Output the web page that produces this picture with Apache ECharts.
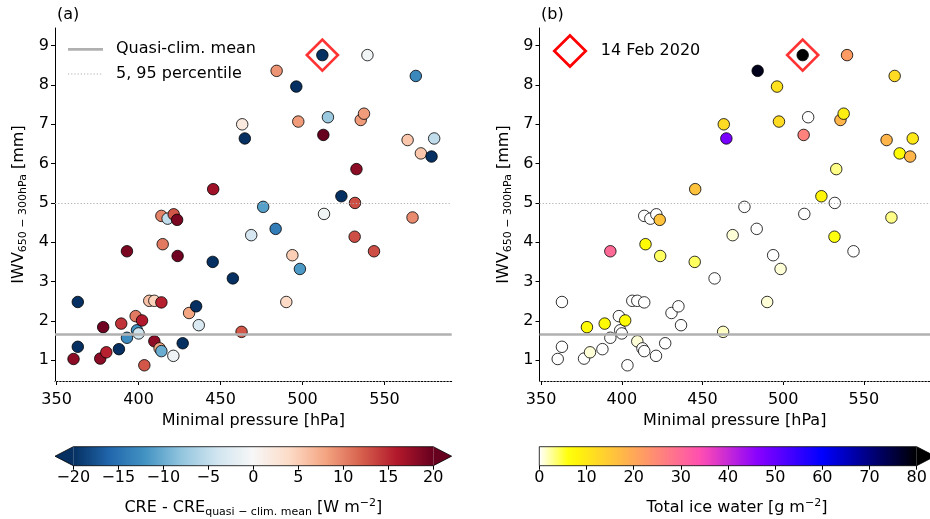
<!DOCTYPE html>
<html>
<head>
<meta charset="utf-8">
<script src="https://cdn.jsdelivr.net/npm/echarts@6/dist/echarts.min.js"></script>
<style>
  html, body { margin: 0; padding: 0; background: #fff; }
  #chart { width: 930px; height: 519px; }
</style>
</head>
<body>
<div id="chart"></div>
<script>
// Minimal pressure of each case [hPa]
const pressure = [
  360.3, 362.9, 362.9, 376.6, 380.3, 378.4, 388.0, 389.4, 392.9, 392.9,
  398.2, 399.0, 400.0, 402.1, 403.5, 406.5, 409.6, 409.6, 412.8, 413.9,
  413.9, 413.9, 414.7, 417.7, 421.4, 423.5, 423.8, 421.2, 426.9, 430.8,
  435.1, 436.7, 445.2, 445.5, 457.5, 462.8, 463.2, 464.8, 468.7, 476.0,
  483.6, 484.2, 490.1, 493.8, 496.2, 497.4, 498.4, 512.1, 512.7, 513.1,
  515.5, 523.7, 531.8, 532.0, 532.9, 535.5, 537.5, 539.6, 543.6, 564.1,
  567.1, 569.1, 572.2, 578.7, 580.3
];
// Integrated water vapour 650-300 hPa [mm]
const iwv = [
  1.03, 1.34, 2.48, 1.04, 1.20, 1.84, 1.28, 1.93, 1.57, 3.77,
  2.12, 1.76, 1.68, 2.01, 0.87, 2.51, 2.51, 1.48, 1.30, 1.23,
  2.47, 4.67, 3.95, 4.60, 4.71, 4.57, 3.65, 1.11, 1.43, 2.20,
  2.37, 1.89, 3.50, 5.35, 3.08, 1.72, 7.00, 6.64, 4.18, 4.90,
  4.34, 8.36, 2.48, 3.67, 7.96, 7.07, 3.32, 8.76, 6.73, 4.72,
  7.18, 5.17, 4.14, 5.00, 5.86, 7.11, 7.27, 8.76, 3.77, 6.60,
  4.63, 8.23, 6.26, 6.18, 6.64
];
// CRE anomaly relative to the quasi-climatological mean [W m-2]
const creAnomaly = [
  18, -21, -21, 18, 15.5, 19.5, -21, 14.5, -12.5, 19,
  10.5, -12, -4, 16, 12.5, 6, 4.5, 18, 8, -10,
  15.5, 10, 10.5, -5, 12.5, 19, 19.5, -1, -21, 8,
  -21, -3, -21, 17, -21, 12.5, 2, -22, -3.5, -11,
  -14, 9, 4, 5, -22, 8.5, -11.5, -22, 20, -0.5,
  -7.5, -21, 13, 13, 18, 8.5, 8.5, -0.5, 13, 5.5,
  9.5, -13, 5.5, -21, -5
];
// Total ice water [g m-2]
const iceWater = [
  0, 0, 0, 0, 1, 7, 0, 7, 0, 30,
  0, 0, 0, 7, 0, 0, 0, 1, 0, 0,
  0, 0, 7, 0, 0, 16, 4, 0, 0, 0,
  0, 0, 4, 16, 0, 1.5, 12, 48, 1, 0,
  0, 78, 1, 0, 11, 12, 1, 85, 26, 0,
  0, 8, 6, 0, 3, 18, 9, 22, 0, 18,
  3, 12, 7, 18, 10
];
// case of 14 Feb 2020
const highlightIndex = 47;
const highlightLabel = '14 Feb 2020';

const climMean = 1.65;
const percentileLines = [0.47, 4.98];

const xTicks = [350, 400, 450, 500, 550];
const yTicks = [1, 2, 3, 4, 5, 6, 7, 8, 9];
const creTicks = [-20, -15, -10, -5, 0, 5, 10, 15, 20];
const iceTicks = [0, 10, 20, 30, 40, 50, 60, 70, 80];

// ---------- colour maps ----------
const rdbuR = ['#053061', '#2166ac', '#4393c3', '#92c5de', '#d1e5f0', '#f7f7f7',
               '#fddbc7', '#f4a582', '#d6604d', '#b2182b', '#67001f'];
function hexRgb(h) {
  return [parseInt(h.slice(1, 3), 16), parseInt(h.slice(3, 5), 16), parseInt(h.slice(5, 7), 16)];
}
function clamp01(v) { return Math.max(0, Math.min(1, v)); }
function rgbStr(c) { return 'rgb(' + c.map(v => Math.round(v)).join(',') + ')'; }
function rdbuColor(v) {
  const t = clamp01((v + 20) / 40) * (rdbuR.length - 1);
  const i = Math.min(Math.floor(t), rdbuR.length - 2);
  const f = t - i;
  const a = hexRgb(rdbuR[i]), b = hexRgb(rdbuR[i + 1]);
  return rgbStr([0, 1, 2].map(k => a[k] + (b[k] - a[k]) * f));
}
function gnuplot2R(v) {
  const t = 1 - clamp01(v / 80);
  const r = clamp01(t / 0.32 - 0.78125);
  const g = clamp01(2 * t - 0.84);
  let b;
  if (t < 0.25) b = 4 * t;
  else if (t < 0.42) b = 1;
  else if (t < 0.92) b = -2 * t + 1.84;
  else b = t / 0.08 - 11.5;
  b = clamp01(b);
  return rgbStr([r * 255, g * 255, b * 255]);
}

const font = 'DejaVu Sans';
const gray = '#b0b0b0';

function axisPair(gridIndex) {
  return {
    x: {
      type: 'value', gridIndex, min: 349, max: 591,
      axisLine: { lineStyle: { color: '#000', width: 1 } },
      axisTick: { customValues: xTicks, length: 4, lineStyle: { color: '#000' } },
      axisLabel: { customValues: xTicks, color: '#000', fontSize: 16, fontFamily: font, margin: 11 },
      splitLine: { show: false },
      name: 'Minimal pressure [hPa]', nameLocation: 'middle', nameGap: 25,
      nameTextStyle: { color: '#000', fontSize: 16, fontFamily: font }
    },
    y: {
      type: 'value', gridIndex, min: 0.47, max: 9.45,
      axisLine: { show: true, lineStyle: { color: '#000', width: 1 } },
      axisTick: { show: true, customValues: yTicks, length: 4, lineStyle: { color: '#000' } },
      axisLabel: { customValues: yTicks, color: '#000', fontSize: 16, fontFamily: font, margin: 6 },
      splitLine: { show: false },
      name: '{m|IWV}{s|650 − 300hPa}{m| [mm]}', nameLocation: 'middle', nameGap: 26,
      nameTextStyle: {
        color: '#000', fontFamily: font,
        rich: {
          m: { fontSize: 16, fontFamily: font, color: '#000', lineHeight: 20 },
          s: { fontSize: 11, fontFamily: font, color: '#000', lineHeight: 10, verticalAlign: 'bottom' }
        }
      }
    }
  };
}
const pa = axisPair(0), pb = axisPair(1);

function refLines(xi) {
  return {
    type: 'scatter', xAxisIndex: xi, yAxisIndex: xi, data: [], z: 1, silent: true,
    markLine: {
      silent: true, symbol: 'none', label: { show: false },
      data: [
        { yAxis: climMean, lineStyle: { color: gray, width: 2.7, type: 'solid' } },
        ...percentileLines.map(v => ({ yAxis: v, lineStyle: { color: gray, width: 1, type: [1.2, 2] } }))
      ]
    }
  };
}

function pointSeries(xi, values, colorFn) {
  return {
    type: 'scatter', xAxisIndex: xi, yAxisIndex: xi, z: 3,
    symbol: 'circle', symbolSize: 11.5,
    data: pressure.map((p, i) => [p, iwv[i], values[i]]),
    itemStyle: {
      color: params => colorFn(params.value[2]),
      borderColor: '#000', borderWidth: 0.8, opacity: 1
    },
    emphasis: { disabled: true }
  };
}

function highlightSeries(xi) {
  return {
    type: 'scatter', xAxisIndex: xi, yAxisIndex: xi, z: 4,
    symbol: 'diamond', symbolSize: [31, 31],
    data: [[pressure[highlightIndex], iwv[highlightIndex]]],
    itemStyle: { color: 'rgba(0,0,0,0)', borderColor: '#ff0000', borderWidth: 2.7 },
    emphasis: { disabled: true }
  };
}

function cbarAxis(gridIndex, min, max, interval, nameRich, rich, namePad) {
  return {
    type: 'value', gridIndex, min, max, interval,
    axisLine: { show: false },
    axisTick: { show: true, length: 4, lineStyle: { color: '#000' } },
    axisLabel: {
      color: '#000', fontSize: 16, fontFamily: font, margin: 4,
      formatter: v => String(v).replace('-', '\u2212')
    },
    splitLine: { show: false },
    name: nameRich, nameLocation: 'middle', nameGap: 32,
    nameTextStyle: { color: '#000', fontFamily: font, rich, padding: namePad }
  };
}
const richBase = {
  m: { fontSize: 16, fontFamily: font, color: '#000', lineHeight: 20 },
  s: { fontSize: 11, fontFamily: font, color: '#000', lineHeight: 10, verticalAlign: 'bottom' },
  u: { fontSize: 11, fontFamily: font, color: '#000', lineHeight: 10, verticalAlign: 'top' }
};

// colorbar geometry
const cbA = { x0: 73.3, x1: 433.3, y0: 446.7, y1: 465.7, ext: 18.3 };
const cbB = { x0: 539.3, x1: 916.7, y0: 446.7, y1: 465.7, ext: 18.3 };

function gradientStops(fn, lo, hi, n) {
  const s = [];
  for (let i = 0; i <= n; i++) s.push({ offset: i / n, color: fn(lo + (hi - lo) * i / n) });
  return s;
}

function colorbarGraphics(cb, stops, lowColor, highColor) {
  const ym = (cb.y0 + cb.y1) / 2;
  const els = [{
    type: 'rect', shape: { x: cb.x0, y: cb.y0, width: cb.x1 - cb.x0, height: cb.y1 - cb.y0 },
    style: { fill: new echarts.graphic.LinearGradient(0, 0, 1, 0, stops), stroke: null }, z: 0
  }];
  const outline = [];
  if (lowColor) {
    els.push({ type: 'polygon', shape: { points: [[cb.x0, cb.y0], [cb.x0 - cb.ext, ym], [cb.x0, cb.y1]] },
               style: { fill: lowColor }, z: 0 });
  }
  els.push({ type: 'polygon', shape: { points: [[cb.x1, cb.y0], [cb.x1 + cb.ext, ym], [cb.x1, cb.y1]] },
             style: { fill: highColor }, z: 0 });
  if (lowColor) outline.push([cb.x0, cb.y0], [cb.x1, cb.y0], [cb.x1 + cb.ext, ym], [cb.x1, cb.y1],
                             [cb.x0, cb.y1], [cb.x0 - cb.ext, ym]);
  else outline.push([cb.x0, cb.y0], [cb.x1, cb.y0], [cb.x1 + cb.ext, ym], [cb.x1, cb.y1], [cb.x0, cb.y1]);
  els.push({ type: 'polygon', shape: { points: outline }, style: { fill: null, stroke: '#000', lineWidth: 0.8 }, z: 1 });
  return els;
}

const graphics = [
  { type: 'text', left: 57, top: 7, style: { text: '(a)', font: '16px "DejaVu Sans"', fill: '#000' } },
  { type: 'text', left: 541, top: 7, style: { text: '(b)', font: '16px "DejaVu Sans"', fill: '#000' } },
  // legend, panel (a)
  { type: 'line', shape: { x1: 68, y1: 49.3, x2: 103, y2: 49.3 }, style: { stroke: gray, lineWidth: 2.7 } },
  { type: 'text', x: 116, y: 49.3, style: { text: 'Quasi-clim. mean', font: '16px "DejaVu Sans"', fill: '#000', verticalAlign: 'middle' } },
  { type: 'line', shape: { x1: 68, y1: 74, x2: 103, y2: 74 }, style: { stroke: gray, lineWidth: 1, lineDash: [1.2, 2] } },
  { type: 'text', x: 116, y: 74, style: { text: '5, 95 percentile', font: '16px "DejaVu Sans"', fill: '#000', verticalAlign: 'middle' } },
  // legend, panel (b)
  { type: 'polygon', shape: { points: [[570, 35.5], [585.7, 51], [570, 66.5], [554.3, 51]] },
    style: { fill: null, stroke: '#ff0000', lineWidth: 2.7 } },
  { type: 'text', x: 600.7, y: 51, style: { text: highlightLabel, font: '16px "DejaVu Sans"', fill: '#000', verticalAlign: 'middle' } },
  ...colorbarGraphics(cbA, rdbuR.map((c, i) => ({ offset: i / (rdbuR.length - 1), color: c })), rdbuR[0], rdbuR[rdbuR.length - 1]),
  ...colorbarGraphics(cbB, gradientStops(gnuplot2R, 0, 80, 40), null, gnuplot2R(80))
];

const chart = echarts.init(document.getElementById('chart'), null, { renderer: 'canvas' });
chart.setOption({
  animation: false,
  backgroundColor: '#fff',
  textStyle: { fontFamily: font },
  grid: [
    { left: 55, top: 28, width: 396.7, height: 353 },
    { left: 539.5, top: 28, width: 397, height: 353 },
    { left: cbA.x0, top: cbA.y0, width: cbA.x1 - cbA.x0, height: cbA.y1 - cbA.y0 },
    { left: cbB.x0, top: cbB.y0, width: cbB.x1 - cbB.x0, height: cbB.y1 - cbB.y0 }
  ],
  xAxis: [
    pa.x, pb.x,
    cbarAxis(2, creTicks[0], creTicks[creTicks.length - 1], 5,
      '{m|CRE - CRE}{s|quasi − clim. mean}{m| [W m}{u|−2}{m|]}', richBase, 0),
    cbarAxis(3, iceTicks[0], iceTicks[iceTicks.length - 1], 10,
      '{m|Total ice water [g m}{u|−2}{m|]}', richBase, [0, 0, 0, 18])
  ],
  yAxis: [
    pa.y, pb.y,
    { type: 'value', gridIndex: 2, min: 0, max: 1, show: false },
    { type: 'value', gridIndex: 3, min: 0, max: 1, show: false }
  ],
  series: [
    refLines(0),
    pointSeries(0, creAnomaly, rdbuColor),
    highlightSeries(0),
    refLines(1),
    pointSeries(1, iceWater, gnuplot2R),
    highlightSeries(1)
  ],
  graphic: graphics
});
</script>
</body>
</html>
